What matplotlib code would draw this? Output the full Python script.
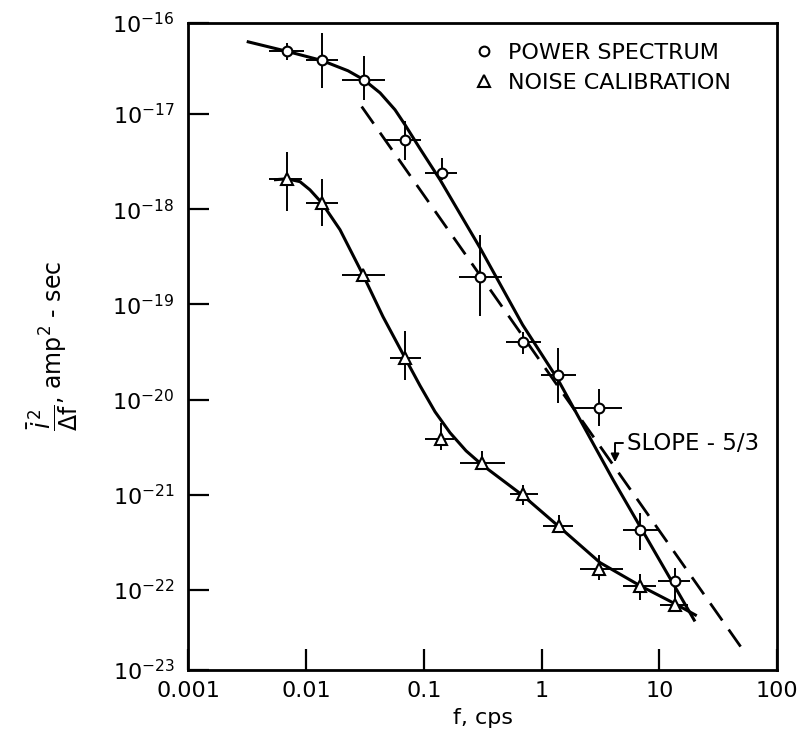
import numpy as np
import matplotlib
matplotlib.use('Agg')
import matplotlib.pyplot as plt
from matplotlib.lines import Line2D

plt.rcParams['font.family'] = 'DejaVu Sans'
plt.rcParams['mathtext.fontset'] = 'dejavusans'

# ---------------- data ----------------
# Power spectrum points (circles)
power_f    = [0.00684, 0.01357, 0.0310, 0.0692, 0.1419, 0.300, 0.690, 1.39, 3.08, 6.87, 13.6]
power_v    = [4.55e-17, 3.66e-17, 2.29e-17, 5.37e-18, 2.40e-18, 1.94e-19, 4.03e-20, 1.83e-20, 8.16e-21, 4.23e-22, 1.25e-22]
power_f_lo = [0.00484, 0.0100, 0.0200, 0.0459, 0.1023, 0.200, 0.499, 0.984, 1.888, 4.92, 9.77]
power_f_hi = [0.0096, 0.01866, 0.0468, 0.0946, 0.1914, 0.459, 0.984, 1.963, 4.80, 9.77, 18.3]
power_v_lo = [3.7e-17, 1.87e-17, 1.41e-17, 3.31e-18, 2.04e-18, 7.48e-20, 3.03e-20, 9.27e-21, 5.23e-21, 2.65e-22, 7.5e-23]
power_v_hi = [5.6e-17, 7.1e-17, 4.09e-17, 8.36e-18, 3.47e-18, 5.40e-19, 5.16e-20, 3.51e-20, 1.29e-20, 6.49e-22, 1.71e-22]

# Noise calibration points (triangles)
noise_f    = [0.00684, 0.01357, 0.0306, 0.0692, 0.1393, 0.314, 0.700, 1.41, 3.08, 6.87, 13.6]
noise_v    = [2.09e-18, 1.16e-18, 2.02e-19, 2.74e-20, 3.88e-21, 2.16e-21, 1.02e-21, 4.73e-22, 1.66e-22, 1.09e-22, 7.01e-23]
noise_f_lo = [0.00484, 0.0100, 0.0200, 0.0516, 0.1023, 0.203, 0.540, 1.035, 2.12, 4.95, 10.2]
noise_f_hi = [0.00918, 0.01866, 0.0468, 0.0942, 0.1807, 0.490, 0.940, 1.862, 4.90, 9.34, 17.6]
noise_v_lo = [9.64e-19, 6.71e-19, 2.02e-19, 1.62e-20, 2.98e-21, 1.84e-21, 7.87e-22, 4.12e-22, 1.28e-22, 7.91e-23, 5.92e-23]
noise_v_hi = [3.95e-18, 2.09e-18, 2.02e-19, 5.2e-20, 5.72e-21, 2.92e-21, 1.28e-21, 6.18e-22, 2.35e-22, 1.48e-22, 8.93e-23]

# Hand-drawn fit curves
power_curve_f = [0.00313, 0.00684, 0.01357, 0.0227, 0.0310, 0.0425, 0.0569, 0.0692, 0.0929,
                 0.1374, 0.2999, 0.690, 1.38, 4.05, 20.1]
power_curve_v = [5.79e-17, 4.57e-17, 3.66e-17, 2.85e-17, 2.29e-17, 1.67e-17, 1.11e-17, 7.72e-18, 4.32e-18,
                 2.04e-18, 3.94e-19, 6.12e-20, 1.62e-20, 1.44e-21, 4.68e-23]
noise_curve_f = [0.00533, 0.00687, 0.00887, 0.01078, 0.01357, 0.0194, 0.0304, 0.0450, 0.0692, 0.0929,
                 0.1245, 0.167, 0.2284, 0.312, 0.697, 1.41, 3.14, 6.87, 13.6, 20.8]
noise_curve_v = [2.04e-18, 2.09e-18, 1.95e-18, 1.60e-18, 1.17e-18, 6.10e-19, 2.05e-19, 7.43e-20, 2.75e-20, 1.40e-20,
                 7.46e-21, 4.49e-21, 2.90e-21, 2.07e-21, 9.8e-22, 4.62e-22, 1.94e-22, 1.11e-22, 7.18e-23, 5.37e-23]

# Reference slope -5/3 line (dashed)
slope_f = [0.02964, 53.6]
slope_v = [1.2e-17, 2.18e-23]

# Axes / ticks
x_ticks = [0.001, 0.01, 0.1, 1, 10, 100]
x_tick_labels = ['0.001', '0.01', '0.1', '1', '10', '100']
y_lim = (10 ** -22.84, 10 ** -16.04)
y_ticks = [10 ** -22.84, 1e-22, 1e-21, 1e-20, 1e-19, 1e-18, 1e-17, 10 ** -16.04]
y_tick_labels = [r'$10^{-23}$', r'$10^{-22}$', r'$10^{-21}$', r'$10^{-20}$',
                 r'$10^{-19}$', r'$10^{-18}$', r'$10^{-17}$', r'$10^{-16}$']

legend_labels = ['POWER SPECTRUM', 'NOISE CALIBRATION']
slope_label = 'SLOPE - 5/3'
slope_arrow_xy = (4.21, 2.2e-21)
slope_text_xy = (5.3, 3.5e-21)

# ---------------- figure ----------------
W, H = 801, 739
fig = plt.figure(figsize=(W / 100, H / 100), dpi=100)
ax = fig.add_axes([188.4 / W, 1 - 670 / H, 588.6 / W, 647.3 / H])
ax.set_xscale('log')
ax.set_yscale('log')
ax.set_xlim(0.001, 100)
ax.set_ylim(*y_lim)

pf = np.array(power_f); pv = np.array(power_v)
nf = np.array(noise_f); nv = np.array(noise_v)

ax.errorbar(pf, pv,
            xerr=[pf - np.array(power_f_lo), np.array(power_f_hi) - pf],
            yerr=[pv - np.array(power_v_lo), np.array(power_v_hi) - pv],
            fmt='none', ecolor='black', elinewidth=1.4, capsize=0, zorder=2)
ax.errorbar(nf, nv,
            xerr=[nf - np.array(noise_f_lo), np.array(noise_f_hi) - nf],
            yerr=[nv - np.array(noise_v_lo), np.array(noise_v_hi) - nv],
            fmt='none', ecolor='black', elinewidth=1.4, capsize=0, zorder=2)

ax.plot(power_curve_f, power_curve_v, color='black', lw=2.2, zorder=3,
        solid_capstyle='butt', solid_joinstyle='round')
ax.plot(noise_curve_f, noise_curve_v, color='black', lw=2.2, zorder=3,
        solid_capstyle='butt', solid_joinstyle='round')
ax.plot(slope_f, slope_v, color='black', lw=2.0, ls=(0, (7.5, 4.0)), zorder=3)

ax.plot(pf, pv, 'o', ms=7, mfc='white', mec='black', mew=1.5, zorder=5)
ax.plot(nf, nv, '^', ms=8, mfc='white', mec='black', mew=1.5, zorder=5)

ax.annotate(slope_label, xy=slope_arrow_xy, xytext=slope_text_xy,
            fontsize=16.5, va='center', ha='left',
            arrowprops=dict(arrowstyle='-|>', color='black', lw=1.4,
                            connectionstyle='angle,angleA=180,angleB=90,rad=0',
                            shrinkA=1, shrinkB=0, mutation_scale=12))

leg_h1 = Line2D([], [], ls='none', marker='o', ms=7, mfc='white', mec='black', mew=1.5)
leg_h2 = Line2D([], [], ls='none', marker='^', ms=8, mfc='white', mec='black', mew=1.5)
ax.legend([leg_h1, leg_h2], legend_labels, loc='upper left', bbox_to_anchor=(0.489, 0.969),
          frameon=False, fontsize=16, handlelength=0.7, handletextpad=0.75,
          labelspacing=0.45, borderaxespad=0, borderpad=0)

ax.set_xticks(x_ticks)
ax.set_xticklabels(x_tick_labels)
ax.set_yticks(y_ticks)
ax.set_yticklabels(y_tick_labels)
ax.minorticks_off()
ax.tick_params(axis='both', which='major', direction='in', length=15, width=1.6,
               labelsize=16, top=False, right=False)
ax.tick_params(axis='x', pad=8)
ax.tick_params(axis='y', pad=10)

for s in ax.spines.values():
    s.set_linewidth(2.0)

ax.set_xlabel('f, cps', fontsize=16, labelpad=5)
ax.set_ylabel(r'$\dfrac{\bar{i}^{\,2}}{\Delta\mathrm{f}}$, amp$^2$ - sec', fontsize=17)
ax.yaxis.set_label_coords(-0.185, 0.5)

fig.savefig('out.png', dpi=100)
